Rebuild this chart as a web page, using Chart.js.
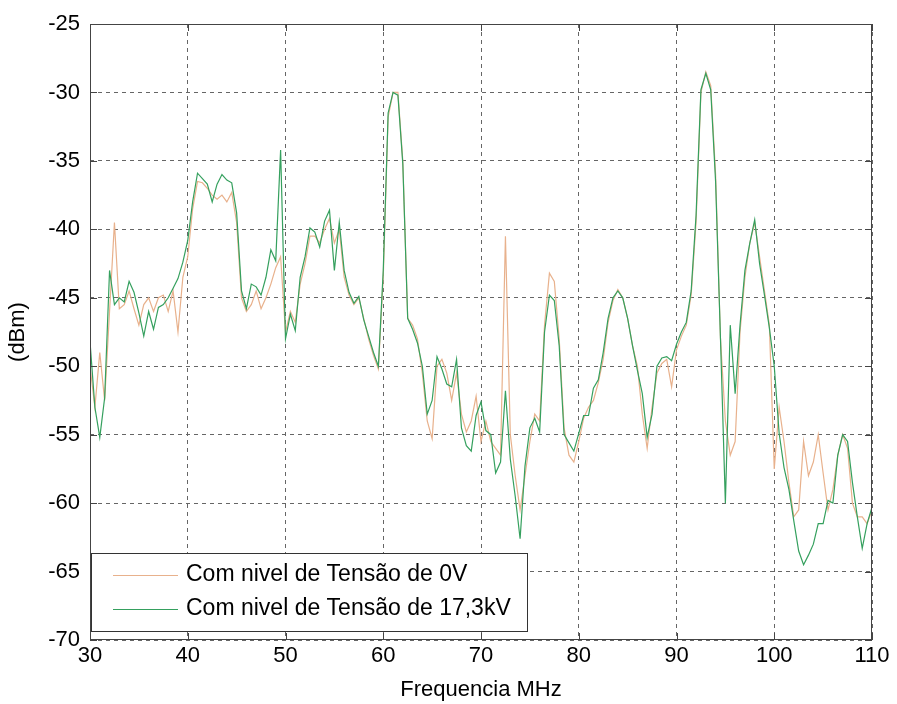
<!DOCTYPE html>
<html>
<head>
<meta charset="utf-8">
<script src="https://cdn.jsdelivr.net/npm/chart.js@4/dist/chart.umd.min.js"></script>
<style>
  body { margin: 0; background: #fff; }
  #wrap { width: 897px; height: 704px; position: relative; }
</style>
</head>
<body>
<div id="wrap"><canvas id="spectrum"></canvas></div>
<script>
// Frequency axis: 30..110 MHz sampled every 0.5 MHz
const F_START = 30;
const F_STEP = 0.5;
const N_POINTS = 161;
const freq = Array.from({ length: N_POINTS }, (_, i) => F_START + i * F_STEP);

const seriesLabels = ['Com nivel de Tensão de 0V', 'Com nivel de Tensão de 17,3kV'];

// 0V (orange) trace, dBm
const level0V = [
  -50.0, -53.0, -49.0, -52.5, -46.0, -39.5, -45.8, -45.5, -44.5, -45.8,
  -47.0, -45.5, -45.0, -46.0, -45.0, -44.8, -46.0, -44.5, -47.5, -43.5,
  -42.0, -38.5, -36.5, -36.6, -37.0, -37.5, -37.8, -37.5, -38.0, -37.3,
  -39.5, -45.0, -46.0, -45.5, -44.5, -45.8, -45.0, -44.0, -42.8, -42.0,
  -47.5, -46.0, -46.8, -44.0, -42.5, -40.5, -40.5, -41.0, -40.0, -39.2,
  -41.0, -40.0, -43.5, -44.8, -45.5, -45.0, -46.5, -48.0, -49.2, -50.2,
  -43.5, -31.8, -30.0, -30.0, -35.0, -46.5, -47.0, -48.0, -50.5, -54.0,
  -55.3, -50.0, -49.5, -50.5, -52.5, -50.5, -53.5, -54.8, -54.0, -52.2,
  -55.5, -54.0, -55.5, -56.0, -56.5, -40.5, -55.0, -58.0, -60.5, -58.0,
  -55.5, -53.5, -54.0, -47.0, -43.2, -43.8, -48.0, -54.5, -56.5, -57.0,
  -55.5, -53.8, -53.0, -52.5, -51.2, -49.5, -46.8, -45.2, -44.4, -45.0,
  -46.5, -48.5, -50.0, -53.5, -56.0, -53.0, -50.5, -49.8, -49.5, -51.5,
  -48.8, -47.8, -47.0, -44.8, -39.5, -30.0, -28.5, -29.5, -36.0, -48.0,
  -54.0, -56.5, -55.5, -47.5, -43.5, -41.0, -39.5, -42.0, -44.5, -47.0,
  -57.5, -53.0, -55.5, -58.5, -61.0, -60.5, -55.5, -58.0, -57.0, -55.0,
  -57.8, -60.5, -59.0, -56.5, -55.0, -56.0, -60.0, -61.0, -61.0, -61.5,
  -60.5
];

// 17,3kV (green) trace, dBm
const level17kV = [
  -48.2, -53.0, -55.2, -52.3, -43.0, -45.5, -45.0, -45.3, -43.8, -44.6,
  -46.1, -47.8, -46.0, -47.3, -45.7, -45.5, -45.0, -44.3, -43.6, -42.4,
  -40.8, -38.0, -35.9, -36.3, -36.7, -38.0, -36.7, -36.0, -36.4, -36.6,
  -38.8, -44.5, -45.8, -44.0, -44.2, -44.8, -43.5, -41.5, -42.3, -34.2,
  -48.0, -46.2, -47.4, -43.5, -42.0, -39.9, -40.2, -41.3, -39.4, -38.6,
  -43.0, -39.5, -43.0, -44.6, -45.4, -44.9, -46.6, -47.8, -49.0, -50.0,
  -43.0, -31.5, -30.0, -30.2, -35.2, -46.5, -47.3, -48.3, -50.0, -53.5,
  -52.5, -49.3, -50.2, -51.3, -51.5, -49.5, -54.5, -55.8, -56.2, -53.6,
  -52.6, -54.7, -55.0, -57.8, -57.0, -51.8, -56.8, -59.5, -62.6, -57.3,
  -54.5, -53.8, -54.8, -47.5, -44.8, -45.2, -48.5, -55.0, -55.6, -56.2,
  -54.9, -53.6, -53.6, -51.6, -51.0, -49.0, -46.5, -45.0, -44.5, -45.0,
  -46.5, -48.5, -50.3, -52.0, -55.2, -53.5, -50.0, -49.4, -49.3, -49.6,
  -48.4, -47.5, -46.8, -44.5, -39.0, -29.8, -28.6, -29.8, -36.5, -48.0,
  -60.0, -47.0, -52.0, -47.0, -43.0, -41.0, -39.3, -42.5, -44.8, -47.2,
  -50.0, -54.9, -57.4, -59.0, -61.3, -63.5, -64.5, -63.8, -63.0, -61.5,
  -61.5, -59.8, -60.0, -56.5, -55.0, -55.5, -58.5, -61.0, -63.3, -61.5,
  -60.3
];

const colors = ['#e8b18c', '#35a05e'];

// MATLAB-like box, inner tick marks and boxed legend
const matlabBox = {
  id: 'matlabBox',
  afterDatasetsDraw(chart) {
    const { ctx, chartArea: a, scales: { x, y } } = chart;
    ctx.save();
    ctx.strokeStyle = '#444';
    ctx.lineWidth = 1;
    ctx.setLineDash([]);
    ctx.beginPath();
    x.ticks.forEach(t => {
      const px = Math.round(x.getPixelForValue(t.value)) + 0.5;
      ctx.moveTo(px, a.bottom); ctx.lineTo(px, a.bottom - 7);
      ctx.moveTo(px, a.top); ctx.lineTo(px, a.top + 7);
    });
    y.ticks.forEach(t => {
      const py = Math.round(y.getPixelForValue(t.value)) + 0.5;
      ctx.moveTo(a.left, py); ctx.lineTo(a.left + 7, py);
      ctx.moveTo(a.right, py); ctx.lineTo(a.right - 7, py);
    });
    ctx.stroke();
    ctx.strokeRect(a.left + 0.5, a.top + 0.5, a.width - 1, a.height - 1);

    // legend
    const lx = a.left + 1, ly = a.bottom - 87, lw = 436, lh = 78;
    ctx.fillStyle = '#fff';
    ctx.fillRect(lx, ly, lw, lh);
    ctx.strokeStyle = '#333';
    ctx.strokeRect(lx + 0.5, ly + 0.5, lw, lh);
    ctx.font = '23px "Liberation Sans", Arial, sans-serif';
    ctx.textBaseline = 'middle';
    seriesLabels.forEach((lab, i) => {
      const ry = ly + 22 + i * 34;
      ctx.strokeStyle = colors[i];
      ctx.beginPath();
      ctx.moveTo(lx + 22, ry + 0.5);
      ctx.lineTo(lx + 87, ry + 0.5);
      ctx.stroke();
      ctx.fillStyle = '#000';
      ctx.fillText(lab, lx + 95, ry);
    });
    ctx.restore();
  }
};

const tickFont = { family: '"Liberation Sans", Arial, sans-serif', size: 22 };

new Chart(document.getElementById('spectrum'), {
  type: 'line',
  data: {
    datasets: [
      {
        label: seriesLabels[0],
        data: freq.map((f, i) => ({ x: f, y: level0V[i] })),
        borderColor: colors[0],
        borderWidth: 1.2,
        pointRadius: 0,
        tension: 0,
        order: 1
      },
      {
        label: seriesLabels[1],
        data: freq.map((f, i) => ({ x: f, y: level17kV[i] })),
        borderColor: colors[1],
        borderWidth: 1.2,
        pointRadius: 0,
        tension: 0,
        order: 0
      }
    ]
  },
  options: {
    responsive: true,
    maintainAspectRatio: false,
    animation: false,
    layout: { padding: { top: 24, right: 25, left: 0, bottom: 0 } },
    plugins: {
      legend: { display: false },
      tooltip: { enabled: false }
    },
    scales: {
      x: {
        type: 'linear',
        min: 30,
        max: 110,
        ticks: { stepSize: 10, color: '#000', font: tickFont, padding: 3, maxRotation: 0 },
        grid: { color: '#666', drawTicks: false },
        border: { display: false, dash: [4, 4] },
        title: { display: true, text: 'Frequencia MHz', color: '#000', font: tickFont, padding: { top: 0, bottom: 1 } },
        afterFit: s => { s.height = 64; }
      },
      y: {
        min: -70,
        max: -25,
        ticks: { stepSize: 5, color: '#000', font: tickFont, padding: 10 },
        grid: { color: '#666', drawTicks: false },
        border: { display: false, dash: [4, 4] },
        title: { display: true, text: '(dBm)', color: '#000', font: tickFont, padding: { top: 5, bottom: 0 } },
        afterFit: s => { s.width = 90; }
      }
    }
  },
  plugins: [matlabBox]
});
</script>
</body>
</html>
